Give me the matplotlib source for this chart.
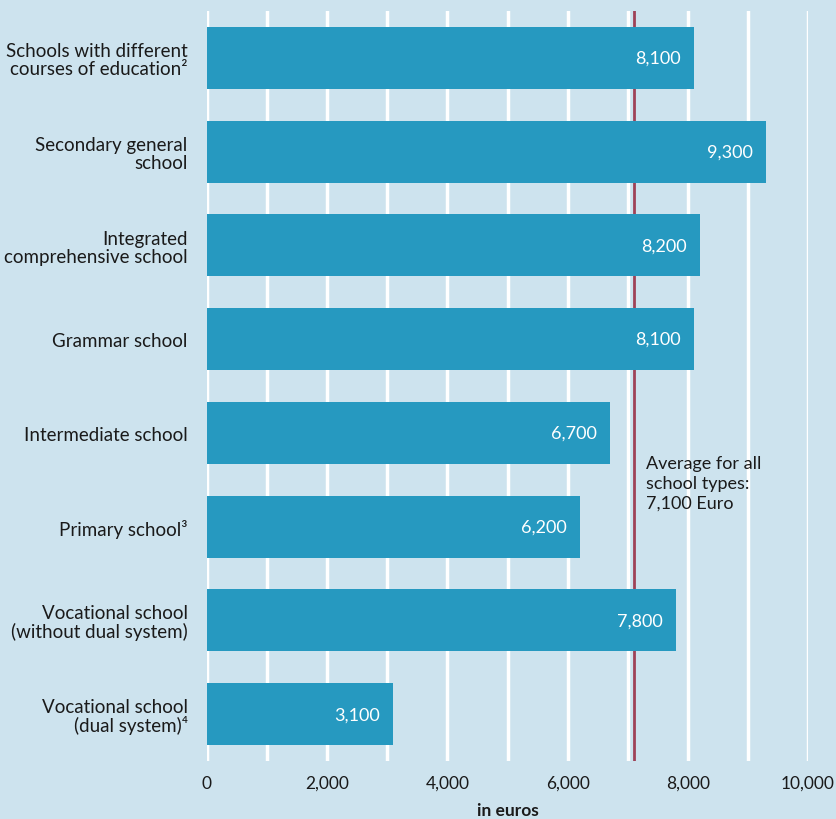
import matplotlib.pyplot as plt

plt.rcParams['font.family'] = ['Lato', 'DejaVu Sans']

# data
schools = ['Schools with different\ncourses of education²',
           'Secondary general\nschool',
           'Integrated\ncomprehensive school',
           'Grammar school',
           'Intermediate school',
           'Primary school³',
           'Vocational school\n(without dual system)',
           'Vocational school\n(dual system)⁴']
spend = [8100, 9300, 8200, 8100, 6700, 6200, 7800, 3100]
average = 7100
xticks = [0, 2000, 4000, 6000, 8000, 10000]

bg = '#cde3ee'
bar_col = '#2699c0'
avg_col = '#9e4257'
txt_col = '#1a1a1a'

fig = plt.figure(figsize=(8.37, 8.20), dpi=100)
fig.patch.set_facecolor(bg)
ax = fig.add_axes([0.2473, 0.0707, 0.9654 - 0.2473, 0.9854 - 0.0707])
ax.set_facecolor(bg)

ypos = list(range(len(schools)))
ax.barh(ypos, spend, height=0.66, color=bar_col, zorder=3)

# value labels inside the bars
for y, v in zip(ypos, spend):
    ax.text(v - 600, y, f'{v:,}', color='white', fontsize=13,
            ha='center', va='center', zorder=4)

# average line (behind the bars)
ax.axvline(average, color=avg_col, lw=2, zorder=2)
ax.text(average + 200, 4.24, 'Average for all\nschool types:\n7,100 Euro',
        color=txt_col, fontsize=13, ha='left', va='top', linespacing=1.28)

ax.set_ylim(len(schools) - 0.5, -0.5)
ax.set_xlim(0, 10000)
ax.set_yticks(ypos)
ax.set_yticklabels(schools, fontsize=13.5, color=txt_col, linespacing=1.05)
ax.set_xticks(xticks)
ax.set_xticklabels([f'{t:,}' for t in xticks], fontsize=12.5, color=txt_col)
ax.set_xticks(range(0, 10001, 1000), minor=True)
ax.tick_params(axis='both', which='both', length=0)
ax.tick_params(axis='y', pad=14)
ax.tick_params(axis='x', pad=10)
ax.grid(axis='x', which='both', color='white', lw=2.5, zorder=1)
ax.set_axisbelow(True)
for s in ax.spines.values():
    s.set_visible(False)

ax.set_xlabel('in euros', fontsize=12.5, fontweight='bold', color=txt_col, labelpad=8)

fig.savefig('out.png', dpi=100, facecolor=bg)
